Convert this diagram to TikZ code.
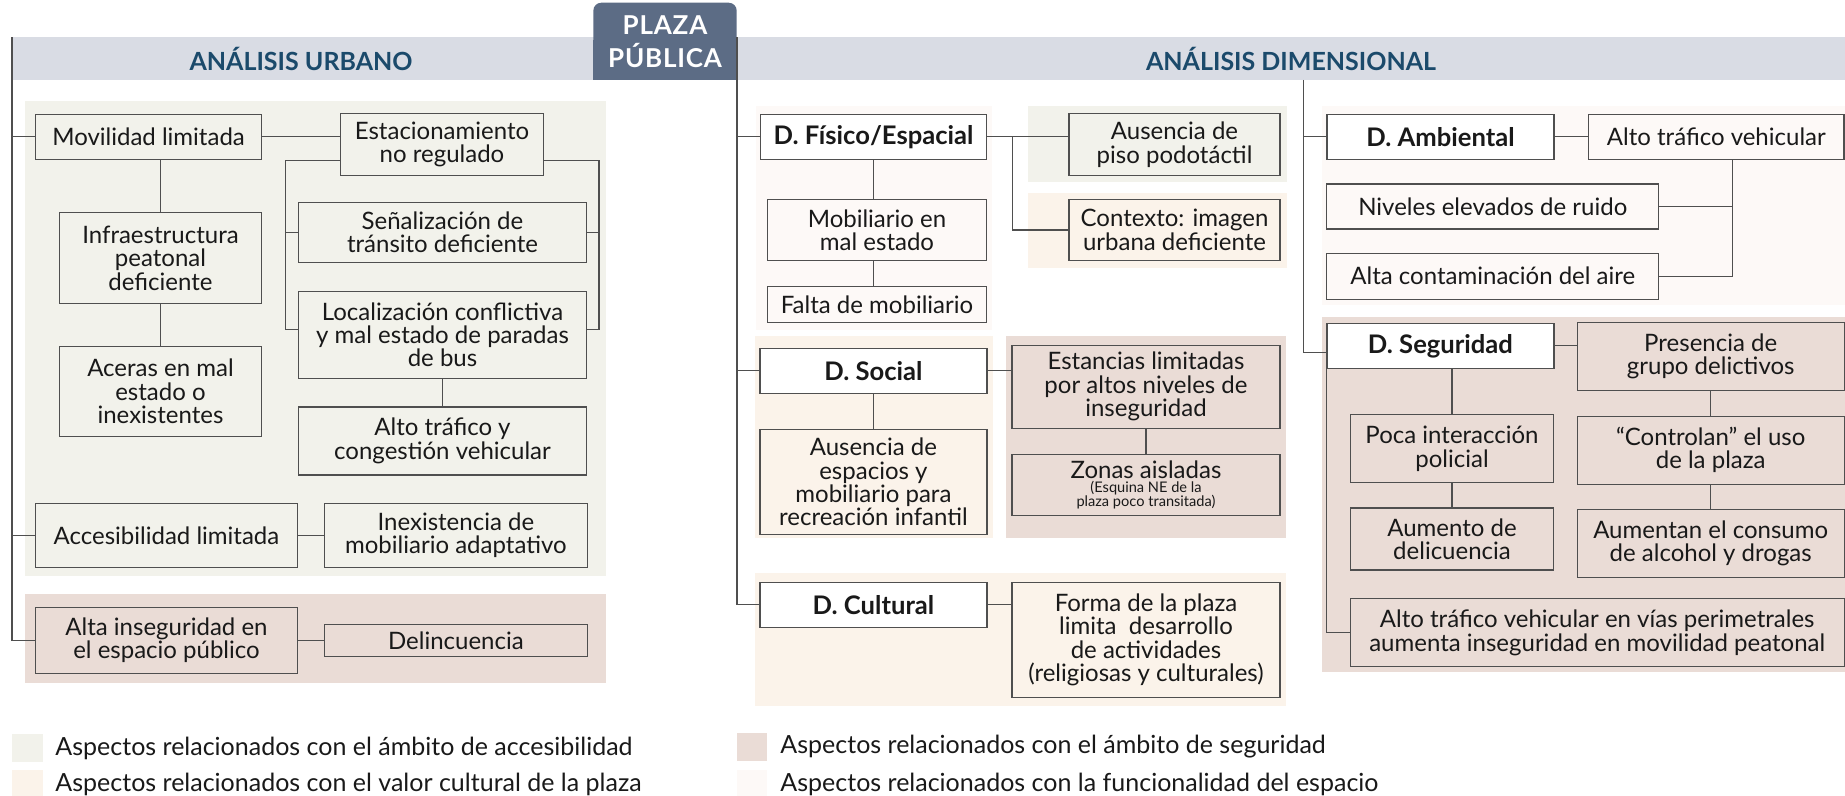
\documentclass[tikz,border=0pt]{standalone}
\usepackage{fontspec}
\setmainfont{Lato}
\usepackage{tikz}
\usetikzlibrary{positioning}
\usepackage{xcolor}
\definecolor{acczone}{HTML}{F2F2EB}
\definecolor{culzone}{HTML}{FBF3EA}
\definecolor{segzone}{HTML}{EADCD6}
\definecolor{funzone}{HTML}{FDF9F7}
\definecolor{bandcol}{HTML}{D9DCE4}
\definecolor{tabcol}{HTML}{5C6C85}
\definecolor{headcol}{HTML}{1B4A6B}
\definecolor{linecol}{HTML}{4F4F4F}

\begin{document}
\begin{tikzpicture}[x=0.5pt,y=-0.5pt,
      box/.style={draw=linecol,line width=0.6pt,inner sep=0pt,align=center,
                  text=black!90,font=\fontsize{12}{11.7}\selectfont},
      dbox/.style={box,fill=white,
                   font=\fontsize{12.8}{11.7}\selectfont\bfseries},
      wh/.style 2 args={minimum width=#1*0.5pt,minimum height=#2*0.5pt},
      link/.style={draw=linecol,line width=0.6pt},
      head/.style={font=\fontsize{12.5}{14}\selectfont\bfseries,text=headcol},
      tab/.style={fill=tabcol,rounded corners=4pt,text=white,align=center,
                  inner sep=0pt,
                  font=\fontsize{13}{16.5}\selectfont\bfseries\addfontfeatures{LetterSpace=3}},
      note/.style={anchor=west,inner sep=0pt,text=black!90,
                   font=\fontsize{12.5}{13}\selectfont},
    ]
    \useasboundingbox (0,0) rectangle (1845,796);

    % shaded zones
    \fill[acczone] (24.5,101) rectangle (606,576);
    \fill[segzone] (24.5,594) rectangle (606,683.3);
    \fill[funzone] (756,106) rectangle (992,330);
    \fill[acczone] (1027.7,106) rectangle (1287,182.3);
    \fill[culzone] (1027.7,192.7) rectangle (1287,268.3);
    \fill[culzone] (755,336) rectangle (992.5,538.3);
    \fill[segzone] (1006,336) rectangle (1286.4,538.3);
    \fill[culzone] (755,573.3) rectangle (1286.4,705.7);
    \fill[funzone] (1321.5,106) rectangle (1845,305);
    \fill[segzone] (1321.5,316.7) rectangle (1845,671.7);

    % header band and tab
    \fill[bandcol] (12,37.3) rectangle (1845,80);
    \fill[tabcol] (593.3,40) rectangle (736.7,80);
    \node[tab,wh={143.4}{77.3}] (plaza) at (665,41.35) {PLAZA\\PÚBLICA};
    \node[head] (urb) at (301,59) {ANÁLISIS URBANO};
    \node[head] (dim) at (1291,59) {ANÁLISIS DIMENSIONAL};

    % Analisis urbano
    \node[box,wh={226}{45}] (mov) at (148.6,136.7) {Movilidad limitada};
    \node[box,wh={203}{62}] (est) at (442,144.5) {Estacionamiento\\no regulado};
    \node[box,wh={202}{91}] (inf) at (160.5,258)
      {Infraestructura\\peatonal\\deficiente};
    \node[box,wh={202}{90},below=20.85pt of inf] (ace)
      {Aceras en mal\\estado o\\inexistentes};
    \node[box,wh={288}{60}] (sen) at (442.5,232.3)
      {Señalización de\\tránsito deficiente};
    \node[box,wh={288}{87},below=13.85pt of sen] (loc)
      {Localización conflictiva\\y mal estado de paradas\\de bus};
    \node[box,wh={288}{68},below=13.8pt of loc] (tra)
      {Alto tráfico y\\congestión vehicular};
    \node[box,wh={262}{64}] (acc) at (166.5,535.3) {Accesibilidad limitada};
    \node[box,wh={263}{64},right=12.85pt of acc] (ine)
      {Inexistencia de\\mobiliario adaptativo};
    \node[box,wh={262}{66}] (ins) at (166.5,640.3)
      {Alta inseguridad en\\el espacio público};
    \node[box,wh={263}{32},right=12.85pt of ins] (del) {Delincuencia};

    % D. Fisico, Social, Cultural
    \node[dbox,wh={226}{45}] (fis) at (873.5,136.7) {D. Físico/Espacial};
    \node[box,wh={219}{61}] (mob) at (877,230.3) {Mobiliario en\\mal estado};
    \node[box,wh={219}{36},below=12.15pt of mob] (fal) {Falta de mobiliario};
    \node[box,wh={211}{62}] (aus) at (1174.5,144.8)
      {Ausencia de\\piso podotáctil};
    \node[box,wh={211}{61}] (ctx) at (1174.5,230)
      {Contexto: imagen\\urbana deficiente};
    \node[dbox,wh={227}{45}] (soc) at (873.4,370.8) {D. Social};
    \node[box,wh={227}{105},below=17.5pt of soc] (ade)
      {Ausencia de\\espacios y\\mobiliario para\\recreación infantil};
    \node[box,wh={268}{83}] (lim) at (1146,386.7)
      {Estancias limitadas\\por altos niveles de\\inseguridad};
    \node[box,wh={268}{61},below=12.5pt of lim] (zon)
      {Zonas aisladas\\[-4.4pt]{\fontsize{7.3}{7}\selectfont (Esquina NE de la}%
       \\[-4.6pt]{\fontsize{7.3}{7}\selectfont plaza poco transitada)}};
    \node[dbox,wh={227}{45}] (cul) at (873.4,604.8) {D. Cultural};
    \node[box,wh={268}{115}] (frm) at (1146,639.8)
      {Forma de la plaza\\limita\ \ desarrollo\\de actividades\\(religiosas y culturales)};

    % D. Ambiental, Seguridad
    \node[dbox,wh={227}{45}] (amb) at (1440.4,136.7) {D. Ambiental};
    \node[box,wh={255.5}{45}] (atv) at (1716.3,136.7) {Alto tráfico vehicular};
    \node[box,wh={332}{45}] (niv) at (1492.8,206.5) {Niveles elevados de ruido};
    \node[box,wh={332}{46}] (con) at (1492.8,276.2) {Alta contaminación del aire};
    \node[dbox,wh={227}{45}] (seg) at (1440.4,345.8) {D. Seguridad};
    \node[box,wh={267}{68}] (pre) at (1710.7,356.6)
      {Presencia de\\grupo delictivos};
    \node[box,wh={267}{68},below=12.15pt of pre] (cnt)
      {“Controlan” el uso\\de la plaza};
    \node[box,wh={267}{68},below=12.1pt of cnt] (alc)
      {Aumentan el consumo\\de alcohol y drogas};
    \node[box,wh={203}{68}] (poc) at (1452,448.8)
      {Poca interacción\\policial};
    \node[box,wh={203}{62},below=12pt of poc] (aum)
      {Aumento de\\delicuencia};
    \node[box,wh={494}{68}] (per) at (1597.2,632.8)
      {Alto tráfico vehicular en vías perimetrales\\aumenta inseguridad en movilidad peatonal};

    % trunks
    \coordinate (lt) at (12,37.3);
    \coordinate (ct) at (737,37.3);
    \coordinate (rt) at (1303.5,80);
    \draw[link] (lt) |- (ins);
    \draw[link] (lt |- mov) -- (mov);
    \draw[link] (lt |- acc) -- (acc);
    \draw[link] (ct) |- (cul);
    \draw[link] (ct |- fis) -- (fis);
    \draw[link] (ct |- soc) -- (soc);
    \draw[link] (rt) |- ([yshift=-3.25pt]seg.west);
    \draw[link] (rt |- amb) -- (amb);

    % links, urbano
    \draw[link] (mov) -- (mov -| est.west);
    \draw[link] (inf) -- (inf |- mov.south);
    \draw[link] (inf) -- (ace);
    \coordinate (bl) at (285.5,160.7);
    \coordinate (br) at (599,160.7);
    \draw[link] (est.west |- bl) -- (bl) |- ([yshift=2.65pt]loc.west);
    \draw[link] (bl |- sen) -- (sen);
    \draw[link] (est.east |- br) -- (br) |- ([yshift=2.65pt]loc.east);
    \draw[link] (br |- sen) -- (sen);
    \draw[link] (loc) -- (tra);
    \draw[link] (acc) -- (ine);
    \draw[link] (ins) -- (del);

    % links, dimensional
    \draw[link] (fis) -- (fis -| aus.west);
    \coordinate (fb) at (1012.6,136.7);
    \draw[link] (fb) |- (ctx);
    \draw[link] (fis) -- (fis |- mob.north);
    \draw[link] (fis |- mob.south) -- (fis |- fal.north);
    \draw[link] (soc) -- (ade);
    \draw[link] (soc) -- (soc -| lim.west);
    \draw[link] (lim) -- (zon);
    \draw[link] (cul) -- (cul -| frm.west);
    \draw[link] (amb) -- (atv);
    \coordinate (ab) at (1732.8,159.3);
    \draw[link] (ab) |- (con);
    \draw[link] (ab |- niv) -- (niv);
    \draw[link] (seg) -- (seg -| pre.west);
    \draw[link] (poc) -- (poc |- seg.south);
    \draw[link] (poc) -- (aum);
    \draw[link] (pre) -- (cnt);
    \draw[link] (cnt) -- (alc);
    \draw[link] (seg.south west) |- (per);

    % legend
    \fill[acczone] (12.3,734.3) rectangle (42.7,761.7);
    \fill[culzone] (12.3,770) rectangle (42.7,796);
    \fill[segzone] (736.7,733) rectangle (766.7,760.5);
    \fill[funzone] (736.7,770) rectangle (766.7,796);
    \node[note] (lg1) at (55,748)
      {Aspectos relacionados con el ámbito de accesibilidad};
    \node[note] (lg2) at (55,784)
      {Aspectos relacionados con el valor cultural de la plaza};
    \node[note] (lg3) at (780,747)
      {Aspectos relacionados con el ámbito de seguridad};
    \node[note] (lg4) at (780,784)
      {Aspectos relacionados con la funcionalidad del espacio};

  \end{tikzpicture}
\end{document}
